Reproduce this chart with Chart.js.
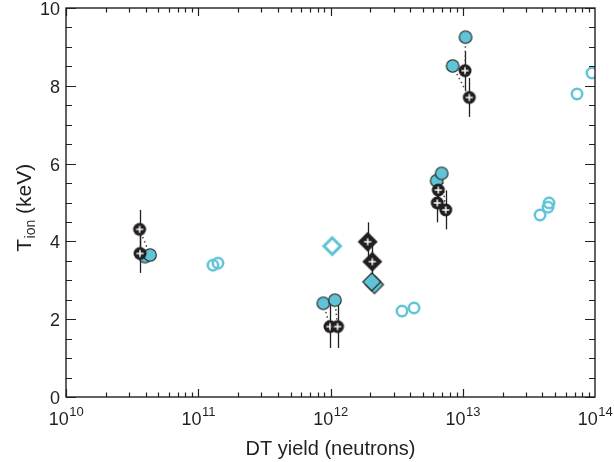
<!DOCTYPE html>
<html><head><meta charset="utf-8">
<script src="https://cdn.jsdelivr.net/npm/chart.js@4.4.0/dist/chart.umd.min.js"></script>
<style>html,body{margin:0;padding:0;background:#fff}#wrap{width:614px;height:462px;position:relative}</style>
</head><body><div id="wrap"><canvas id="c"></canvas></div>
<script>
// ---------------- data ----------------
const xTickValues = [1e10, 1e11, 1e12, 1e13, 1e14];
const xTickBase = ['10', '10', '10', '10', '10'];
const xTickExp = ['10', '11', '12', '13', '14'];
const yTickValues = [0, 2, 4, 6, 8, 10];
const xTitle = 'DT yield (neutrons)';
const yTitleMain = 'T';
const yTitleSub = 'ion';
const yTitleRest = ' (keV)';

// measured (black circles with cross)
const measX = [3.60e10, 3.63e10, 9.91e11, 1.13e12, 6.53e12, 6.42e12, 7.43e12, 1.04e13, 1.12e13];
const measY = [4.31, 3.69, 1.81, 1.81, 5.32, 4.99, 4.81, 8.39, 7.70];
const measErr = [0.5, 0.5, 0.55, 0.55, 0.5, 0.5, 0.5, 0.5, 0.5];

// simulated, filled cyan circles
const simX = [3.96e10, 4.32e10, 8.83e11, 1.08e12, 6.35e12, 6.93e12, 8.39e12, 1.05e13];
const simY = [3.61, 3.65, 2.41, 2.49, 5.56, 5.75, 8.51, 9.25];

// open cyan circles
const openX = [1.29e11, 1.41e11, 3.47e12, 4.28e12, 3.84e13, 4.41e13, 4.49e13, 7.31e13, 9.49e13];
const openY = [3.39, 3.44, 2.21, 2.29, 4.68, 4.88, 4.99, 7.79, 8.33];

// black diamonds with cross
const diaX = [1.91e12, 2.07e12];
const diaY = [3.99, 3.48];
const diaErr = [0.5, 0.5];

// filled cyan diamonds
const simDiaX = [2.15e12, 2.05e12];
const simDiaY = [2.89, 2.96];

// open cyan diamond
const openDiaX = [1.03e12];
const openDiaY = [3.88];

// dotted connectors: [index in sim, index in meas]
const pairs = [[1, 0], [2, 2], [3, 3], [4, 4], [5, 6], [7, 7], [6, 8]];

// ---------------- styling ----------------
const BLACK = '#231f20';
const CYAN = 'rgb(94,196,214)';
const FONT = 'Arial, "Liberation Sans", Helvetica, sans-serif';

function mk(size, draw) {
  const c = document.createElement('canvas');
  c.width = size; c.height = size;
  draw(c.getContext('2d'), size / 2);
  return c;
}
const imgMeas = mk(16, (g, m) => {
  g.fillStyle = BLACK; g.beginPath(); g.arc(m, m, 6.5, 0, Math.PI * 2); g.fill();
  g.strokeStyle = '#fff'; g.lineWidth = 1.5; g.beginPath();
  g.moveTo(m - 3.6, m); g.lineTo(m + 3.6, m); g.moveTo(m, m - 3.6); g.lineTo(m, m + 3.6); g.stroke();
});
const imgSim = mk(16, (g, m) => {
  g.fillStyle = CYAN; g.strokeStyle = BLACK; g.lineWidth = 1.1;
  g.beginPath(); g.arc(m, m, 6.3, 0, Math.PI * 2); g.fill(); g.stroke();
});
const imgOpen = mk(16, (g, m) => {
  g.strokeStyle = CYAN; g.lineWidth = 2.5;
  g.beginPath(); g.arc(m, m, 5.2, 0, Math.PI * 2); g.stroke();
});
function diamond(g, m, r) { g.beginPath(); g.moveTo(m, m - r); g.lineTo(m + r, m); g.lineTo(m, m + r); g.lineTo(m - r, m); g.closePath(); }
const imgDia = mk(22, (g, m) => {
  g.fillStyle = BLACK; diamond(g, m, 10); g.fill();
  g.strokeStyle = '#fff'; g.lineWidth = 1.5; g.beginPath();
  g.moveTo(m - 3.6, m); g.lineTo(m + 3.6, m); g.moveTo(m, m - 3.6); g.lineTo(m, m + 3.6); g.stroke();
});
const imgSimDia = mk(22, (g, m) => {
  g.fillStyle = CYAN; g.strokeStyle = BLACK; g.lineWidth = 1.1; diamond(g, m, 9); g.fill(); g.stroke();
});
const imgOpenDia = mk(22, (g, m) => {
  g.fillStyle = '#fff'; g.strokeStyle = CYAN; g.lineWidth = 3; diamond(g, m, 8.3); g.fill(); g.stroke();
});

const zip = (xs, ys) => xs.map((x, i) => ({ x, y: ys[i] }));
function markerSet(xs, ys, img, order) {
  return { data: zip(xs, ys), pointStyle: img, pointRadius: 6, pointHoverRadius: 6, showLine: false, order, clip: 0 };
}
const datasets = [];
pairs.forEach(([s, m]) => {
  datasets.push({
    data: [{ x: simX[s], y: simY[s] }, { x: measX[m], y: measY[m] }],
    showLine: true, borderColor: '#444', borderWidth: 1.5, borderDash: [1.5, 3],
    pointRadius: 0, order: 10, clip: 0
  });
});
datasets.push(markerSet(openX, openY, imgOpen, 6));
datasets.push(markerSet(openDiaX, openDiaY, imgOpenDia, 6));
datasets.push(markerSet(simX, simY, imgSim, 5));
datasets.push(markerSet(simDiaX, simDiaY, imgSimDia, 5));
datasets.push(markerSet(measX, measY, imgMeas, 1));
datasets.push(markerSet(diaX, diaY, imgDia, 1));

const errorBars = {
  id: 'errorBars',
  beforeDatasetsDraw(chart) {
    const { ctx, chartArea: a, scales: { x, y } } = chart;
    ctx.save();
    ctx.beginPath(); ctx.rect(a.left, a.top, a.right - a.left, a.bottom - a.top); ctx.clip();
    ctx.strokeStyle = BLACK; ctx.lineWidth = 1.3;
    const draw = (xs, ys, es) => xs.forEach((v, i) => {
      const px = Math.round(x.getPixelForValue(v)) + 0.5;
      ctx.beginPath();
      ctx.moveTo(px, y.getPixelForValue(ys[i] + es[i]));
      ctx.lineTo(px, y.getPixelForValue(ys[i] - es[i]));
      ctx.stroke();
    });
    draw(measX, measY, measErr);
    draw(diaX, diaY, diaErr);
    ctx.restore();
  }
};

const frame = {
  id: 'frame',
  afterDraw(chart) {
    const { ctx, chartArea: a, scales: { x, y } } = chart;
    ctx.save();
    ctx.strokeStyle = BLACK; ctx.lineWidth = 1.4;
    ctx.strokeRect(a.left, a.top, a.right - a.left, a.bottom - a.top);
    ctx.lineWidth = 1.2;
    ctx.beginPath();
    // x ticks
    for (let e = 10; e < 14; e++) {
      for (let k = 1; k <= 9; k++) {
        const v = k * Math.pow(10, e);
        const px = Math.round(x.getPixelForValue(v)) + 0.5;
        const L = k === 1 ? 8 : 4.5;
        ctx.moveTo(px, a.bottom); ctx.lineTo(px, a.bottom - L);
        ctx.moveTo(px, a.top); ctx.lineTo(px, a.top + L);
      }
    }
    // y ticks
    for (let t = 0; t <= 10; t += 0.5) {
      const py = Math.round(y.getPixelForValue(t)) + 0.5;
      const L = (t % 2 === 0) ? 10 : 6;
      ctx.moveTo(a.left, py); ctx.lineTo(a.left + L, py);
      ctx.moveTo(a.right, py); ctx.lineTo(a.right - L, py);
    }
    ctx.stroke();

    ctx.fillStyle = BLACK;
    // y tick labels
    ctx.font = '18px ' + FONT; ctx.textAlign = 'right'; ctx.textBaseline = 'middle';
    yTickValues.forEach(v => ctx.fillText(String(v), a.left - 6, y.getPixelForValue(v) + 2));
    // x tick labels
    ctx.textBaseline = 'alphabetic'; ctx.textAlign = 'left';
    xTickValues.forEach((v, i) => {
      ctx.font = '18px ' + FONT; const wb = ctx.measureText(xTickBase[i]).width;
      ctx.font = '13px ' + FONT; const we = ctx.measureText(xTickExp[i]).width;
      const x0 = x.getPixelForValue(v) - (wb + we) / 2;
      ctx.font = '18px ' + FONT; ctx.fillText(xTickBase[i], x0, 425);
      ctx.font = '13px ' + FONT; ctx.fillText(xTickExp[i], x0 + wb + 0.5, 416);
    });
    // x title
    ctx.font = '20px ' + FONT; ctx.textAlign = 'center';
    ctx.fillText(xTitle, (a.left + a.right) / 2, 455);
    // y title
    ctx.translate(31, 208); ctx.rotate(-Math.PI / 2);
    ctx.font = '21px ' + FONT; const w1 = ctx.measureText(yTitleMain).width;
    const w3 = ctx.measureText(yTitleRest).width;
    ctx.font = '14px ' + FONT; const w2 = ctx.measureText(yTitleSub).width;
    let sx = -(w1 + w2 + w3) / 2;
    ctx.textAlign = 'left';
    ctx.font = '21px ' + FONT; ctx.fillText(yTitleMain, sx, 0); sx += w1;
    ctx.font = '14px ' + FONT; ctx.fillText(yTitleSub, sx + 0.5, 4); sx += w2 + 0.5;
    ctx.font = '21px ' + FONT; ctx.fillText(yTitleRest, sx, 0);
    ctx.restore();
  }
};

new Chart(document.getElementById('c'), {
  type: 'scatter',
  data: { datasets },
  options: {
    responsive: true, maintainAspectRatio: false, animation: false,
    layout: { padding: { top: 8, right: 19, left: 0, bottom: 0 } },
    plugins: { legend: { display: false }, tooltip: { enabled: false } },
    events: [],
    scales: {
      x: {
        type: 'logarithmic', min: 1e10, max: 1e14,
        ticks: { display: false }, grid: { display: false }, border: { display: false },
        afterFit(s) { s.height = 65; }
      },
      y: {
        type: 'linear', min: 0, max: 10,
        ticks: { display: false }, grid: { display: false }, border: { display: false },
        afterFit(s) { s.width = 66; }
      }
    }
  },
  plugins: [errorBars, frame]
});
</script>
</body></html>
